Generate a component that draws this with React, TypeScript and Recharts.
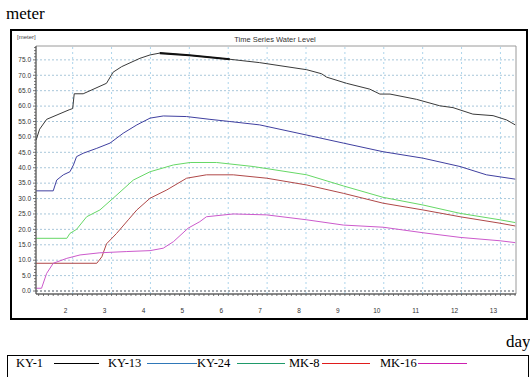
import { LineChart, Line, XAxis, YAxis, ReferenceLine, ReferenceArea } from 'recharts';

// day axis labels and level grid (values shown as "75.0" etc.)
const dayTicks = [2, 3, 4, 5, 6, 7, 8, 9, 10, 11, 12, 13];
const levelTicks = [0, 5, 10, 15, 20, 25, 30, 35, 40, 45, 50, 55, 60, 65, 70, 75];

const ky1Day = [1.06, 1.15, 1.33, 1.91, 2.0, 2.04, 2.27, 2.87, 3.04, 3.26, 3.73, 3.99, 4.24, 5.0, 6.04, 6.81, 8.02, 8.4, 8.53, 9.04, 9.64, 9.9, 10.16, 10.84, 11.44, 11.78, 12.29, 12.81, 13.16, 13.38];
const ky1Level = [49.0, 52.5, 55.7, 58.8, 59.2, 64.0, 64.0, 67.4, 71.0, 72.8, 75.5, 76.6, 77.2, 76.5, 75.2, 74.1, 71.8, 70.5, 69.4, 67.4, 65.5, 63.9, 63.9, 62.2, 60.1, 59.5, 57.4, 56.9, 55.5, 53.9];

const ky13Day = [1.06, 1.5, 1.59, 1.76, 1.93, 2.02, 2.1, 2.27, 2.62, 2.96, 3.3, 3.65, 3.99, 4.33, 4.93, 5.53, 6.04, 6.81, 8.02, 8.96, 9.98, 11.01, 11.96, 12.64, 13.38];
const ky13Level = [32.5, 32.5, 36.0, 37.7, 38.7, 40.9, 43.6, 44.7, 46.3, 48.0, 51.2, 53.9, 56.1, 56.8, 56.6, 55.7, 55.0, 53.9, 50.6, 48.0, 45.2, 43.1, 40.4, 37.7, 36.3];

const ky24Day = [1.06, 1.85, 1.93, 2.1, 2.36, 2.7, 3.04, 3.56, 3.99, 4.59, 5.02, 5.7, 6.64, 8.02, 8.96, 9.98, 11.01, 11.96, 12.99, 13.38];
const ky24Level = [17.1, 17.1, 18.7, 20.0, 24.1, 26.3, 30.1, 36.0, 38.7, 40.9, 41.7, 41.7, 40.4, 37.7, 34.1, 30.4, 27.9, 25.2, 23.1, 22.2];

const mk8Day = [1.06, 2.62, 2.75, 2.87, 3.13, 3.43, 3.65, 3.99, 4.42, 4.93, 5.44, 6.13, 6.99, 8.02, 8.96, 9.98, 11.01, 11.96, 12.99, 13.38];
const mk8Level = [9.0, 9.0, 11.1, 15.3, 18.7, 23.1, 26.3, 30.1, 32.8, 36.6, 37.7, 37.7, 36.6, 34.4, 31.7, 28.5, 26.3, 24.1, 22.0, 21.1];

const mk16Day = [1.06, 1.2, 1.33, 1.5, 1.85, 2.19, 2.7, 3.39, 3.99, 4.33, 4.59, 4.97, 5.27, 5.44, 6.13, 6.99, 8.02, 8.96, 9.98, 11.01, 11.96, 12.99, 13.38];
const mk16Level = [0.9, 0.9, 5.7, 9.0, 10.6, 11.7, 12.4, 12.8, 13.1, 13.9, 16.0, 20.4, 22.5, 24.1, 25.0, 24.7, 23.1, 21.4, 20.7, 18.9, 17.4, 16.3, 15.7];

const toPoints = (days: number[], levels: number[]) => days.map((d, i) => ({ day: d, level: levels[i] }));

const series = [
  { name: 'KY-1', data: toPoints(ky1Day, ky1Level), color: '#3a3a3a', legendColor: '#000000' },
  { name: 'KY-13', data: toPoints(ky13Day, ky13Level), color: '#4040a0', legendColor: '#2f78b8' },
  { name: 'KY-24', data: toPoints(ky24Day, ky24Level), color: '#66d866', legendColor: '#1f9a6a' },
  { name: 'MK-8', data: toPoints(ky24Day.length ? mk8Day : mk8Day, mk8Level), color: '#b04848', legendColor: '#e01c1c' },
  { name: 'MK-16', data: toPoints(mk16Day, mk16Level), color: '#cc5acc', legendColor: '#cc1fb0' },
];

// the heavy stroke on KY-1 around its peak
const ky1Bold = series[0].data.filter((p) => p.day >= 4.24 && p.day <= 6.04);

const X_MIN = 1.057;
const X_MAX = 13.4;
const Y_MIN = -0.97;
const Y_MAX = 79.5;

const minorDays: number[] = [];
for (let t = 1.125; t <= X_MAX; t += 0.125) minorDays.push(t);
const minorLevels: number[] = [];
for (let v = 0; v <= 79; v += 1) minorLevels.push(v);

const tickFont = '"Liberation Sans", Arial, sans-serif';

const XTick = (props: any) => {
  const { x, y, payload } = props;
  const v = payload.value;
  const major = Math.abs(v - Math.round(v)) < 1e-6;
  return (
    <g>
      <line x1={x} x2={x} y1={y} y2={y + 2} stroke="#555" strokeWidth={0.8} />
      {major && (
        <text x={x - 7} y={y + 19} textAnchor="middle" fontSize={6.5} fill="#333" fontFamily={tickFont}>
          {Math.round(v)}
        </text>
      )}
    </g>
  );
};

const YTick = (props: any) => {
  const { x, y, payload } = props;
  const v = payload.value;
  const major = v % 5 === 0;
  return (
    <g>
      <line x1={x - (major ? 3 : 2)} x2={x} y1={y} y2={y} stroke="#555" strokeWidth={0.8} />
      {major && (
        <text x={x - 5} y={y} dy={2.3} textAnchor="end" fontSize={6.5} fill="#333" fontFamily={tickFont}>
          {v.toFixed(1)}
        </text>
      )}
    </g>
  );
};

const legendItems = [
  { label: 'KY-1', textX: 16, lineX1: 54, lineX2: 99 },
  { label: 'KY-13', textX: 108, lineX1: 147, lineX2: 197 },
  { label: 'KY-24', textX: 197, lineX1: 237, lineX2: 285 },
  { label: 'MK-8', textX: 289, lineX1: 322, lineX2: 370 },
  { label: 'MK-16', textX: 380, lineX1: 418, lineX2: 467 },
];

export default function App() {
  return (
    <div
      style={{
        position: 'absolute',
        left: 0,
        top: 0,
        width: 530,
        height: 377,
        overflow: 'hidden',
        background: '#fff',
        fontFamily: '"Liberation Serif", "Times New Roman", serif',
      }}
    >
      <div style={{ position: 'absolute', left: 6, top: 5, fontSize: 17, lineHeight: 1, color: '#000' }}>meter</div>

      {/* outer frame of the plot image */}
      <div
        style={{
          position: 'absolute',
          left: 10,
          top: 29,
          width: 518,
          height: 291,
          boxSizing: 'border-box',
          border: '2px solid #000',
        }}
      />
      <div style={{ position: 'absolute', left: 17, top: 34, fontSize: 6, fontFamily: tickFont, color: '#444' }}>[meter]</div>
      <div
        style={{
          position: 'absolute',
          left: 0,
          width: 550,
          top: 35,
          textAlign: 'center',
          fontSize: 7.5,
          fontFamily: tickFont,
          color: '#333',
        }}
      >
        Time Series Water Level
      </div>

      <div style={{ position: 'absolute', left: 0, top: 0 }}>
        <LineChart width={530} height={377} margin={{ top: 46, right: 14, bottom: 63, left: 0 }}>
          <XAxis
            dataKey="day"
            type="number"
            domain={[X_MIN, X_MAX]}
            allowDataOverflow
            ticks={minorDays}
            interval={0}
            tick={<XTick />}
            tickLine={false}
            tickSize={0}
            tickMargin={0}
            height={20}
            axisLine={{ stroke: '#444' }}
          />
          <YAxis
            dataKey="level"
            type="number"
            domain={[Y_MIN, Y_MAX]}
            allowDataOverflow
            ticks={minorLevels}
            interval={0}
            tick={<YTick />}
            tickLine={false}
            tickSize={0}
            tickMargin={0}
            width={36}
            axisLine={{ stroke: '#555' }}
          />
          <ReferenceArea x1={X_MIN} x2={X_MAX} y1={Y_MIN} y2={Y_MAX} fill="none" stroke="#9a9a9a" strokeWidth={1} />
          {levelTicks.map((v) => (
            <ReferenceLine
              key={'h' + v}
              y={v}
              stroke={v === 0 ? '#4a5560' : '#93b9d0'}
              strokeDasharray="2 2"
              strokeWidth={v === 0 ? 1 : 0.8}
            />
          ))}
          {dayTicks.map((d) => (
            <ReferenceLine key={'v' + d} x={d} stroke="#a4d0ea" strokeDasharray="2 3" strokeWidth={0.9} />
          ))}
          {series.map((s) => (
            <Line
              key={s.name}
              data={s.data}
              dataKey="level"
              name={s.name}
              type="linear"
              stroke={s.color}
              strokeWidth={1}
              dot={false}
              isAnimationActive={false}
            />
          ))}
          <Line
            data={ky1Bold}
            dataKey="level"
            type="linear"
            stroke="#111"
            strokeWidth={2.2}
            dot={false}
            isAnimationActive={false}
            legendType="none"
          />
        </LineChart>
      </div>

      <div style={{ position: 'absolute', left: 506, top: 333, fontSize: 17, lineHeight: 1, color: '#000' }}>day</div>

      {/* legend box */}
      <div
        style={{
          position: 'absolute',
          left: 7,
          top: 355,
          width: 522,
          height: 40,
          boxSizing: 'border-box',
          border: '1.5px solid #000',
        }}
      />
      {legendItems.map((item, i) => (
        <div key={item.label}>
          <div
            style={{
              position: 'absolute',
              left: item.textX,
              top: 356,
              fontSize: 12.5,
              lineHeight: '14px',
              color: '#000',
            }}
          >
            {item.label}
          </div>
          <div
            style={{
              position: 'absolute',
              left: item.lineX1,
              top: 363,
              width: item.lineX2 - item.lineX1,
              height: 0,
              borderTop: '1.2px solid ' + series[i].legendColor,
            }}
          />
        </div>
      ))}
    </div>
  );
}
